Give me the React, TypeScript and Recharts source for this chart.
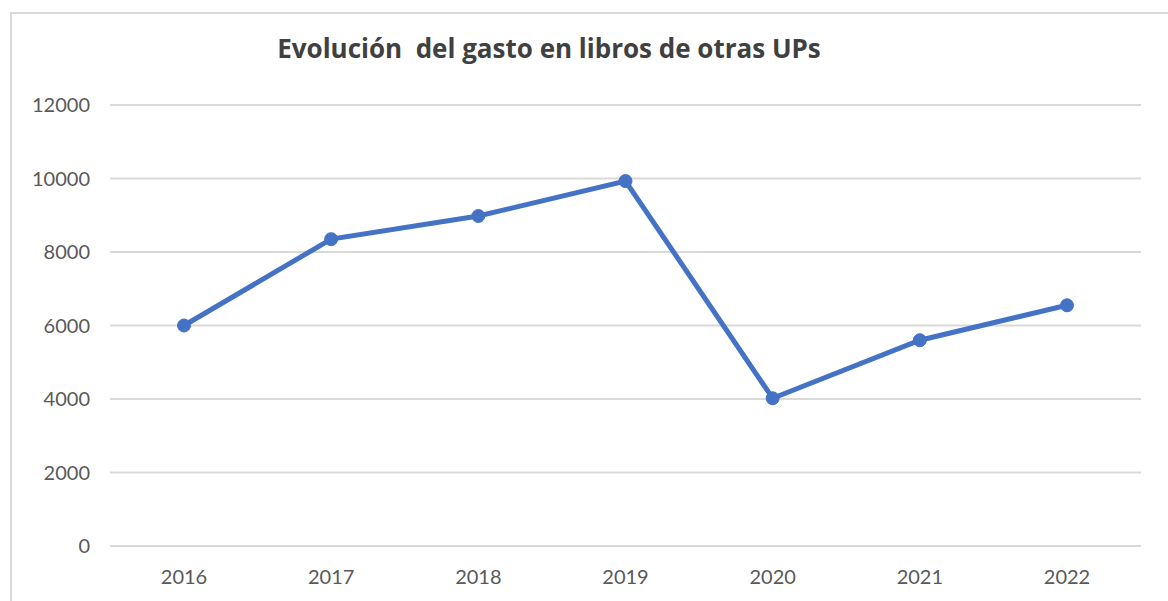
import { LineChart, Line, XAxis, YAxis, CartesianGrid } from 'recharts'

const years = ['2016', '2017', '2018', '2019', '2020', '2021', '2022']
const gasto = [6000, 8350, 8980, 9930, 4020, 5600, 6550]
const yTicks = [0, 2000, 4000, 6000, 8000, 10000, 12000]

const data = years.map((year, i) => ({ year, gasto: gasto[i] }))

const font = 'Lato, "Open Sans", sans-serif'

export default function App() {
  return (
    <div style={{ position: 'absolute', left: 0, top: 0, width: 1168, height: 601, background: '#fff', overflow: 'hidden', fontFamily: font }}>
      <div style={{ position: 'absolute', left: 10, top: 12, width: 1200, height: 700, border: '2px solid #d9d9d9' }} />
      <div style={{ position: 'absolute', left: 0, top: 30, width: 1098, textAlign: 'center', fontSize: 26, fontWeight: 700, color: '#404040', fontFamily: '"Open Sans", sans-serif', whiteSpace: 'pre' }}>
        {'Evolución  del gasto en libros de otras UPs'}
      </div>
      <div style={{ position: 'absolute', left: 0, top: 0 }}>
        <LineChart width={1168} height={601} data={data} margin={{ top: 105, right: 27, left: 10, bottom: 0 }}>
          <CartesianGrid vertical={false} stroke="#d9d9d9" strokeWidth={2} />
          <XAxis dataKey="year" axisLine={false} tickLine={false} tickMargin={18}
            padding={{ left: 74, right: 74 }}
            tick={{ fontSize: 20, fill: '#595959', fontFamily: font }} height={55} />
          <YAxis domain={[0, 12000]} ticks={yTicks} axisLine={false} tickLine={false} width={100}
            tickMargin={14} interval={0} tick={{ fontSize: 20, fill: '#595959', fontFamily: font }} />
          <Line dataKey="gasto" stroke="#4472C4" strokeWidth={5} isAnimationActive={false}
            dot={{ r: 6.5, fill: '#4472C4', stroke: '#4472C4', strokeWidth: 1 }} />
        </LineChart>
      </div>
    </div>
  )
}
